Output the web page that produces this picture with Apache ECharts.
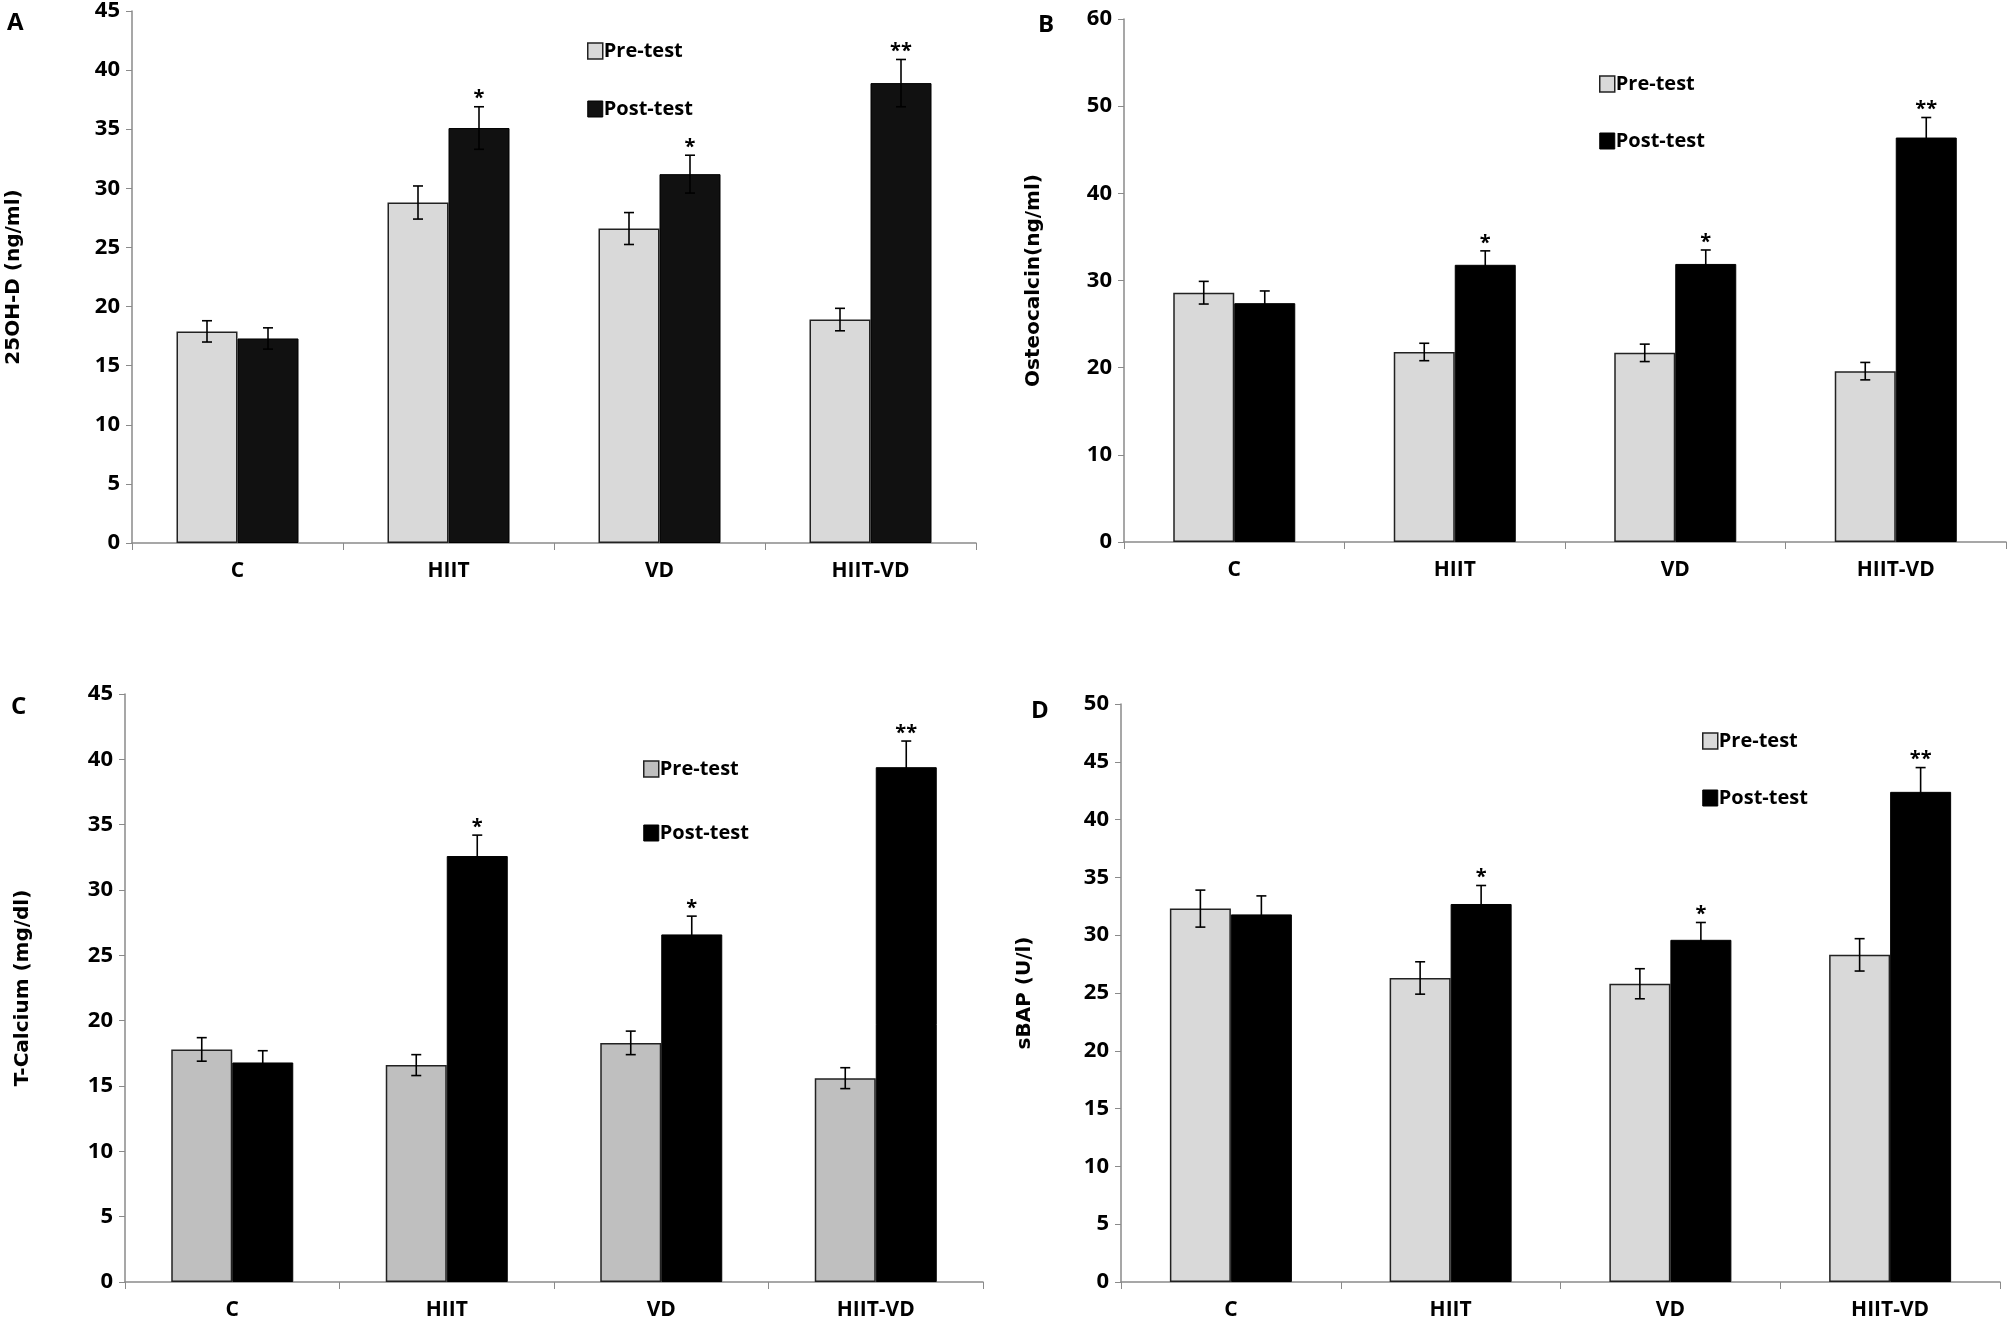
<!DOCTYPE html>
<html>
<head>
<meta charset="utf-8">
<script src="https://cdn.jsdelivr.net/npm/echarts@6/dist/echarts.min.js"></script>
<style>
html,body{margin:0;padding:0;background:#fff;}
#main{width:2008px;height:1321px;}
</style>
</head>
<body>
<div id="main"></div>
<script>
// groups on the x axis
var categories = ['C', 'HIIT', 'VD', 'HIIT-VD'];

// A: 25OH-D
var preA = [17.9, 28.8, 26.6, 18.9];
var preAErr = [0.9, 1.4, 1.35, 0.95];
var postA = [17.3, 35.1, 31.2, 38.9];
var postAErr = [0.9, 1.8, 1.6, 2.0];
var sigA = ['', '*', '*', '**'];

// B: Osteocalcin
var preB = [28.6, 21.8, 21.7, 19.6];
var preBErr = [1.3, 1.0, 1.0, 1.0];
var postB = [27.4, 31.8, 31.9, 46.4];
var postBErr = [1.4, 1.6, 1.6, 2.3];
var sigB = ['', '*', '*', '**'];

// C: T-Calcium
var preC = [17.8, 16.6, 18.3, 15.6];
var preCErr = [0.9, 0.8, 0.9, 0.8];
var postC = [16.8, 32.6, 26.6, 39.4];
var postCErr = [0.9, 1.6, 1.4, 2.0];
var sigC = ['', '*', '*', '**'];

// D: sBAP
var preD = [32.3, 26.3, 25.8, 28.3];
var preDErr = [1.6, 1.4, 1.3, 1.4];
var postD = [31.8, 32.7, 29.6, 42.4];
var postDErr = [1.6, 1.6, 1.5, 2.1];
var sigD = ['', '*', '*', '**'];

var barW = 61;
var tickFont = "'Liberation Sans Narrow', 'Open Sans', sans-serif";
var nameFont = "'DejaVu Sans', Verdana, sans-serif";

var grids = [], xAxes = [], yAxes = [], series = [], legends = [], titles = [];

/** one panel = grid + axes + 2 bars + 2 error bar series */
function addPanel(p) {
	var i = grids.length;
	grids.push({left: p.left, top: p.top, width: p.width, height: p.height});
	xAxes.push({
		type: 'category', gridIndex: i, data: categories,
		axisLine: {lineStyle: {color: '#8a8a8a', width: 1.5}},
		axisTick: {show: true, length: 7, lineStyle: {color: '#8a8a8a'}},
		axisLabel: {color: '#000', fontWeight: 'bold', fontSize: 21, fontFamily: tickFont, margin: 18}
	});
	yAxes.push({
		type: 'value', gridIndex: i, min: 0, max: p.max, interval: p.step,
		name: p.yname, nameLocation: 'middle', nameRotate: 90, nameGap: p.nameGap,
		nameTextStyle: {color: '#000', fontWeight: 'bold', fontSize: 20, fontFamily: nameFont},
		axisLine: {show: true, lineStyle: {color: '#8a8a8a', width: 1.5}},
		axisTick: {show: true, length: 6, lineStyle: {color: '#8a8a8a'}},
		splitLine: {show: false},
		axisLabel: {color: '#000', fontWeight: 'bold', fontSize: 22, fontFamily: tickFont, margin: 12}
	});
	series.push({
		name: 'Pre-test', type: 'bar', xAxisIndex: i, yAxisIndex: i,
		data: p.pre, barWidth: barW, barGap: '0%',
		itemStyle: {color: p.preColor, borderColor: '#222', borderWidth: 1.5}
	});
	series.push({
		name: 'Post-test', type: 'bar', xAxisIndex: i, yAxisIndex: i,
		data: p.post, barWidth: barW, barGap: '0%',
		itemStyle: {color: p.postColor, borderColor: '#000', borderWidth: 1}
	});
	series.push(errSeries(i, p.pre, p.preErr, -1, null));
	series.push(errSeries(i, p.post, p.postErr, 1, p.sig));
	legends.push({
		left: p.legLeft, top: p.legTop, orient: 'vertical', itemGap: p.legGap,
		itemWidth: 15, itemHeight: 16, icon: 'rect',
		textStyle: {color: '#000', fontWeight: 'bold', fontSize: 20, fontFamily: tickFont, padding: [0, 0, 0, -4]},
		data: [
			{name: 'Pre-test', itemStyle: {color: p.preColor, borderColor: '#222', borderWidth: 1.5}},
			{name: 'Post-test', itemStyle: {color: p.postColor, borderColor: '#000', borderWidth: 1}}
		]
	});
	titles.push({
		text: p.letter, left: p.letLeft, top: p.letTop,
		textStyle: {color: '#000', fontWeight: 'bold', fontSize: 24, fontFamily: tickFont}
	});
}

//error bars drawn beside the bars, with the stars above them
function errSeries(i, vals, errs, side, sig) {
	var d = [];
	for (var k = 0; k < vals.length; k++) {
		d.push([k, vals[k], errs[k]]);
	}
	return {
		type: 'custom', xAxisIndex: i, yAxisIndex: i, data: d, z: 5,
		silent: true,
		renderItem: function (params, api) {
			var c = api.coord([api.value(0), api.value(1)]);
			var x = c[0] + side * barW / 2;
			var top = api.coord([api.value(0), api.value(1) + api.value(2)])[1];
			var bot = api.coord([api.value(0), api.value(1) - api.value(2)])[1];
			var st = {stroke: '#000', lineWidth: 1.6};
			var kids = [
				{type: 'line', shape: {x1: x, y1: top, x2: x, y2: bot}, style: st},
				{type: 'line', shape: {x1: x - 5, y1: top, x2: x + 5, y2: top}, style: st},
				{type: 'line', shape: {x1: x - 5, y1: bot, x2: x + 5, y2: bot}, style: st}
			];
			if (sig && sig[params.dataIndex]) {
				kids.push({
					type: 'text',
					style: {x: x, y: top + 2, text: sig[params.dataIndex], align: 'center', verticalAlign: 'bottom',
						fill: '#000', font: 'bold 20px ' + tickFont}
				});
			}
			return {type: 'group', children: kids};
		}
	};
}

addPanel({letter: 'A', letLeft: 2, letTop: 6, left: 132, top: 9, width: 844, height: 534,
	max: 45, step: 5, yname: '25OH-D (ng/ml)', nameGap: 108,
	pre: preA, preErr: preAErr, post: postA, postErr: postAErr, sig: sigA,
	preColor: '#d9d9d9', postColor: '#111111', legLeft: 582, legTop: 36, legGap: 38});
addPanel({letter: 'B', letLeft: 1033, letTop: 8, left: 1124, top: 19, width: 882, height: 523,
	max: 60, step: 10, yname: 'Osteocalcin(ng/ml)', nameGap: 80,
	pre: preB, preErr: preBErr, post: postB, postErr: postBErr, sig: sigB,
	preColor: '#d9d9d9', postColor: '#000000', legLeft: 1594, legTop: 69, legGap: 37});
addPanel({letter: 'C', letLeft: 6, letTop: 690, left: 125, top: 694, width: 858, height: 589,
	max: 45, step: 5, yname: 'T-Calcium (mg/dl)', nameGap: 92,
	pre: preC, preErr: preCErr, post: postC, postErr: postCErr, sig: sigC,
	preColor: '#bfbfbf', postColor: '#000000', legLeft: 638, legTop: 754, legGap: 44});
addPanel({letter: 'D', letLeft: 1026, letTop: 694, left: 1121, top: 704, width: 879, height: 582,
	max: 50, step: 5, yname: 'sBAP (U/l)', nameGap: 86,
	pre: preD, preErr: preDErr, post: postD, postErr: postDErr, sig: sigD,
	preColor: '#d9d9d9', postColor: '#000000', legLeft: 1697, legTop: 726, legGap: 37});

var myChart = echarts.init(document.getElementById('main'));
myChart.setOption({
	backgroundColor: '#fff',
	animation: false,
	title: titles,
	legend: legends,
	grid: grids,
	xAxis: xAxes,
	yAxis: yAxes,
	series: series
});
</script>
</body>
</html>
